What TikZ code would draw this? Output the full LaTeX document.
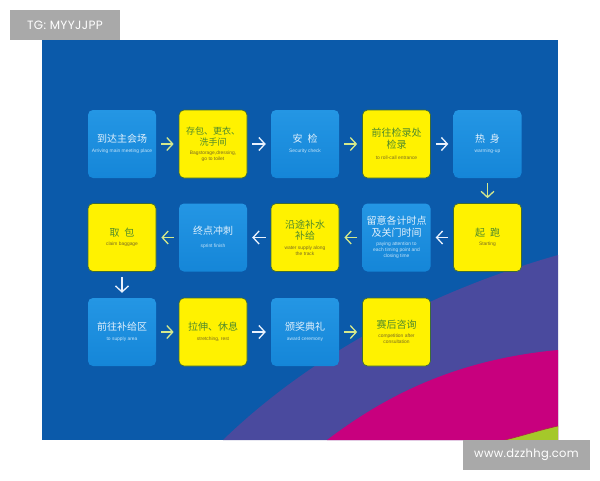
\documentclass[tikz,border=0pt]{standalone}
\usepackage{fontspec}
\setmainfont{Liberation Sans}
\newfontfamily\cjkfont{Noto Sans CJK SC}
\newfontfamily\wmfont[LetterSpace=3]{Poppins}
\usetikzlibrary{arrows.meta}
\definecolor{panelblue}{HTML}{0B5AAA}
\definecolor{boxblue}{HTML}{1586D8}
\definecolor{boxbluetop}{HTML}{2496E4}
\definecolor{boxyellow}{HTML}{FFF200}
\definecolor{yedge}{HTML}{3E6B35}
\definecolor{zhgreen}{HTML}{4F8A2C}
\definecolor{engreen}{HTML}{7A6A25}
\definecolor{zhwhite}{HTML}{E2F1FC}
\definecolor{enwhite}{HTML}{C4E3F8}
\definecolor{arryel}{HTML}{D4E88C}
\definecolor{arrwht}{HTML}{EAF2FD}
\definecolor{wavepurple}{HTML}{4A4A9E}
\definecolor{wavemagenta}{HTML}{C8007E}
\definecolor{waveedge}{HTML}{B0204A}
\definecolor{wavegreen}{HTML}{A5C82A}
\definecolor{wmgray}{HTML}{A9A9A9}
\newcommand\zhtxt[1]{{\cjkfont\fontsize{10}{11.5}\selectfont\begin{tabular}{@{}c@{}}#1\end{tabular}}}
\newcommand\zhsmall[1]{{\cjkfont\fontsize{9}{11}\selectfont\begin{tabular}{@{}c@{}}#1\end{tabular}}}
\begin{document}
\begin{tikzpicture}[x=1pt,y=-1pt,
  bbox/.style={minimum width=68pt,minimum height=68pt,rounded corners=5pt,inner sep=1pt,align=center,font=\fontsize{4.9}{6}\selectfont},
  bluebox/.style={bbox,top color=boxbluetop,bottom color=boxblue,text=enwhite},
  yelbox/.style={bbox,fill=boxyellow,draw=yedge,line width=0.7pt,text=engreen},
  arr/.style={line width=1.3pt,-{Straight Barb[length=6pt,width=13pt,line width=1.3pt]},shorten >=5pt,shorten <=5pt},
  ay/.style={arr,draw=arryel},
  aw/.style={arr,draw=arrwht},
  wm/.style={fill=wmgray,text=white,inner sep=0pt}]
\useasboundingbox (0,0) rectangle (600,480);
\fill[white] (0,0) rectangle (600,480);
% panel and waves
\fill[panelblue] (42,40) rectangle (558,440);
\begin{scope}
\clip (42,40) rectangle (558,440);
\fill[wavepurple] (223,440) .. controls (290,375) and (400,300) .. (558,255) -- (558,440) -- cycle;
\fill[wavemagenta] (327,440) .. controls (380,400) and (450,360) .. (558,350) -- (558,440) -- cycle;
\fill[wavegreen] (505,440) .. controls (525,435) and (540,430) .. (558,426) -- (558,440) -- cycle;
\draw[waveedge,line width=0.6pt] (505,440) .. controls (525,435) and (540,430) .. (558,426);
\end{scope}
% watermarks
\node[wm,minimum width=110pt,minimum height=30pt,font=\wmfont\fontsize{12}{14}\selectfont] (wmtop) at (65,25) {TG: MYYJJPP};
\node[wm,minimum width=127pt,minimum height=30pt,font=\wmfont\fontsize{11.5}{13}\selectfont] (wmbot) at (526.5,455) {www.dzzhhg.com};
% row 1
\node[bluebox] (a1) at (122,144) {\zhtxt{\color{zhwhite}到达主会场}\\[1.5pt]Arriving main meeting place};
\node[yelbox] (a2) at (213,144) {\zhsmall{\color{zhgreen}存包、更衣、\\\color{zhgreen}洗手间}\\[1.5pt]Bagstorage,dressing,\\go to toilet};
\node[bluebox] (a3) at (305,144) {\zhtxt{\color{zhwhite}安\hspace{0.5em}检}\\[1.5pt]Security check};
\node[yelbox] (a4) at (396.5,144) {\zhtxt{\color{zhgreen}前往检录处\\\color{zhgreen}检录}\\[3pt]to roll-call entrance};
\node[bluebox] (a5) at (487.5,144) {\zhtxt{\color{zhwhite}热\hspace{0.5em}身}\\[1.5pt]warming-up};
% row 2
\node[yelbox] (b5) at (487.5,237.5) {\zhtxt{\color{zhgreen}起\hspace{0.5em}跑}\\[1.5pt]Starting};
\node[bluebox] (b4) at (396.5,237.5) {\zhtxt{\color{zhwhite}留意各计时点\\\color{zhwhite}及关门时间}\\[1.5pt]paying attention to\\each timing point and\\closing time};
\node[yelbox] (b3) at (305,237.5) {\zhtxt{\color{zhgreen}沿途补水\\\color{zhgreen}补给}\\[1.5pt]water supply along\\the track};
\node[bluebox] (b2) at (213,237.5) {\zhtxt{\color{zhwhite}终点冲刺}\\[5pt]sprint finish};
\node[yelbox] (b1) at (122,237.5) {\zhtxt{\color{zhgreen}取\hspace{0.5em}包}\\[1.5pt]claim baggage};
% row 3
\node[bluebox] (c1) at (122,332) {\zhtxt{\color{zhwhite}前往补给区}\\[1.5pt]to supply area};
\node[yelbox] (c2) at (213,332) {\zhtxt{\color{zhgreen}拉伸、休息}\\[1.5pt]stretching, rest};
\node[bluebox] (c3) at (305,332) {\zhtxt{\color{zhwhite}颁奖典礼}\\[1.5pt]award ceremony};
\node[yelbox] (c4) at (396.5,332) {\zhtxt{\color{zhgreen}赛后咨询}\\[1.5pt]competition after\\consultation};
% arrows
\draw[ay] (a1) -- (a2);
\draw[aw] (a2) -- (a3);
\draw[ay] (a3) -- (a4);
\draw[aw] (a4) -- (a5);
\draw[ay] (a5) -- (b5);
\draw[aw] (b5) -- (b4);
\draw[ay] (b4) -- (b3);
\draw[aw] (b3) -- (b2);
\draw[ay] (b2) -- (b1);
\draw[aw] (b1) -- (c1);
\draw[ay] (c1) -- (c2);
\draw[aw] (c2) -- (c3);
\draw[ay] (c3) -- (c4);
\end{tikzpicture}
\end{document}
